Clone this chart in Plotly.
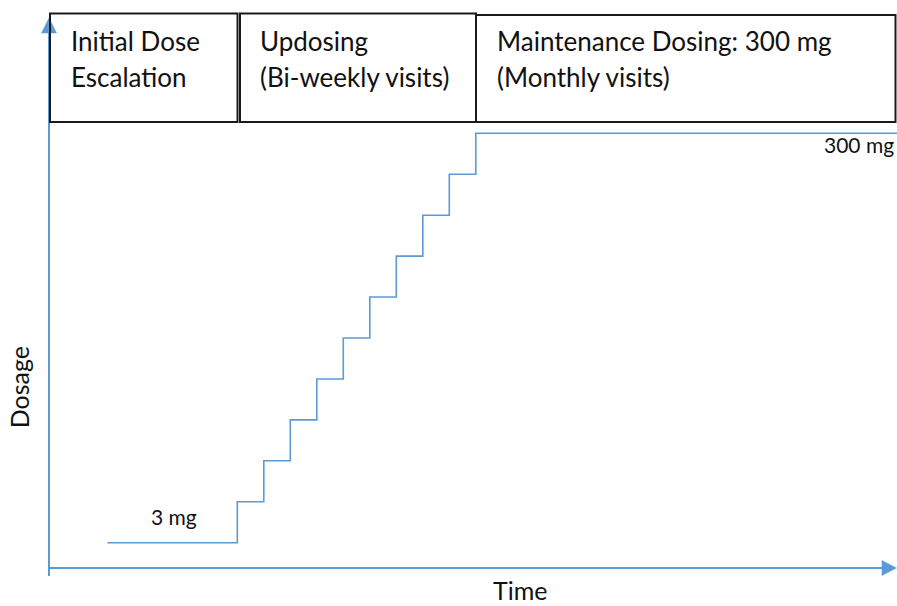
import plotly.graph_objects as go

# ---- data ----
dose_mg = [3, 6, 12, 20, 40, 80, 120, 160, 200, 240, 300]      # dose levels (mg)
dose_level = list(range(len(dose_mg)))                            # ordinal level drawn on y
step_time = [2.1, 7, 8, 9, 10, 11, 12, 13, 14, 15, 16, 31.9]      # time at which each level starts (last = end)
phase_labels = [
    ["Initial Dose", "Escalation"],
    ["Updosing", "(Bi-weekly visits)"],
    ["Maintenance Dosing: 300 mg", "(Monthly visits)"],
]
start_label = "3 mg"
end_label = "300 mg"
x_title = "Time"
y_title = "Dosage"

W, H = 897, 606
BLUE = "#5B9BD5"
FONT = "Lato"
TXT = "#111111"

def px(x):
    return x / W

def py(y):
    return 1 - y / H

# pixel mapping used for the axis ranges
T7_PX, T_STEP = 237.3, 26.5       # time 7 at x=237.3, 26.5 px per unit
L0_PX, L_STEP = 542.7, 40.94      # level 0 at y=542.7, 40.94 px per level
x_range = [7 + (0 - T7_PX) / T_STEP, 7 + (W - T7_PX) / T_STEP]
y_range = [(L0_PX - H) / L_STEP, (L0_PX - 0) / L_STEP]

y_vals = dose_level + [dose_level[-1]]
fig = go.Figure()
fig.add_trace(go.Scatter(
    x=step_time, y=y_vals, mode="lines", line=dict(color=BLUE, width=1.6, shape="hv"),
    customdata=dose_mg + [dose_mg[-1]],
    hovertemplate="Dose: %{customdata} mg<extra></extra>", showlegend=False,
))

shapes = []
# axis lines
shapes.append(dict(type="line", xref="paper", yref="paper", x0=px(49), x1=px(49), y0=py(576), y1=py(30),
                   line=dict(color=BLUE, width=2)))
shapes.append(dict(type="line", xref="paper", yref="paper", x0=px(49), x1=px(885), y0=py(568), y1=py(568),
                   line=dict(color=BLUE, width=2)))
# arrow heads
shapes.append(dict(type="path", xref="paper", yref="paper",
                   path=f"M {px(41.5)},{py(33)} L {px(49)},{py(18)} L {px(56.5)},{py(33)} Z",
                   fillcolor=BLUE, line=dict(color=BLUE, width=0.5)))
shapes.append(dict(type="path", xref="paper", yref="paper",
                   path=f"M {px(882)},{py(560.5)} L {px(896.5)},{py(568)} L {px(882)},{py(575.5)} Z",
                   fillcolor=BLUE, line=dict(color=BLUE, width=0.5)))
# phase boxes
boxes = [(50, 237.5, 13.5, 122), (240, 476, 13.5, 122), (476, 895.5, 15, 122)]
for x0, x1, y0, y1 in boxes:
    shapes.append(dict(type="rect", xref="paper", yref="paper", x0=px(x0), x1=px(x1), y0=py(y1), y1=py(y0),
                       line=dict(color="#1a1a1a", width=2), fillcolor="rgba(0,0,0,0)"))

ann = []
BOX_SIZE = 26
off = 0.387
text_x = [69, 258, 495]
for (l1, l2), tx in zip(phase_labels, text_x):
    for txt, base in ((l1, 51), (l2, 87)):
        ann.append(dict(xref="paper", yref="paper", x=px(tx), y=py(base - off * BOX_SIZE), text=txt,
                        showarrow=False, xanchor="left", yanchor="middle",
                        font=dict(family=FONT, size=BOX_SIZE, color=TXT)))
LBL = 21
ann.append(dict(xref="paper", yref="paper", x=px(174), y=py(524.5 - off * LBL), text=start_label, showarrow=False,
                xanchor="center", yanchor="middle", font=dict(family=FONT, size=LBL, color=TXT)))
ann.append(dict(xref="paper", yref="paper", x=px(896), y=py(153 - off * LBL), text=end_label, showarrow=False,
                xanchor="right", yanchor="middle", font=dict(family=FONT, size=LBL, color=TXT)))
TS = 25
ann.append(dict(xref="paper", yref="paper", x=px(520), y=0, text=x_title, showarrow=False, borderpad=0,
                xanchor="center", yanchor="bottom", font=dict(family=FONT, size=TS, color=TXT)))
DS = 25
ann.append(dict(xref="paper", yref="paper", x=px(29 - off * DS), y=py(387), text=y_title, showarrow=False,
                textangle=-90, xanchor="center", yanchor="middle",
                font=dict(family=FONT, size=DS, color=TXT)))

fig.update_layout(
    width=W, height=H, margin=dict(l=0, r=0, t=0, b=0),
    paper_bgcolor="white", plot_bgcolor="white",
    xaxis=dict(range=x_range, visible=False, domain=[0, 1], fixedrange=True),
    yaxis=dict(range=y_range, visible=False, domain=[0, 1], fixedrange=True),
    shapes=shapes, annotations=ann, showlegend=False,
)
fig.write_html(
    "out.html",
    config={"displayModeBar": False},
    post_script="document.body.style.margin='0';document.body.style.overflow='hidden';"
                "document.documentElement.style.overflow='hidden';",
)
